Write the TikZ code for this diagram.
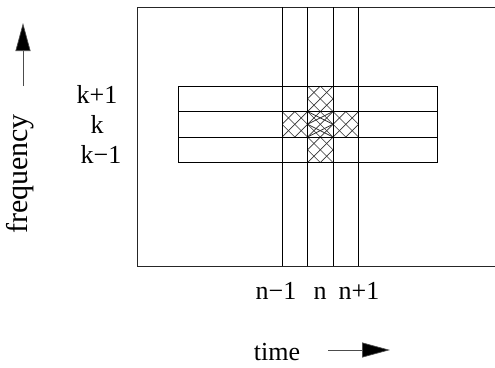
\documentclass[tikz,border=0pt]{standalone}
\usepackage{fontspec}
\setmainfont{Liberation Serif}
\usetikzlibrary{arrows.meta}
\begin{document}
\begin{tikzpicture}[x=1pt,y=-1pt,
  frame/.style={line width=0.9pt,black!85},
  grid/.style={line width=0.9pt,black},
  hatch/.style={line width=0.7pt,black!80},
  lbl/.style={font=\fontsize{26}{26}\selectfont,inner sep=0pt,anchor=base},
  arr/.style={line width=0.7pt,black!70,-{Triangle[length=28pt,width=15pt,fill=black]}}]
\useasboundingbox (0,0) rectangle (495,367);
% outer frame
\draw[frame] (495,7) -- (137,7) -- (137,266) -- (495,266);
% hatched cells
\newcommand{\hatchcell}[2]{%
  \begin{scope}
    \clip (#1,#2) rectangle ++(25.5,25.5);
    \foreach \t in {-51,-38.25,...,51}{
      \draw[hatch] (#1+\t,#2) -- ++(25.5,25.5);
      \draw[hatch] (#1+\t,#2+25.5) -- ++(25.5,-25.5);
    }
  \end{scope}}
\hatchcell{307.5}{86}
\hatchcell{282}{111.5}
\hatchcell{333}{111.5}
\hatchcell{307.5}{137}
\hatchcell{307.5}{111.5}
\begin{scope}
  \clip (307.5,111.5) rectangle ++(25.5,25.5);
  \foreach \t in {-25.5,-12.75,...,38.25}{
    \draw[hatch] (307.5,111.5+\t) -- ++(25.5,-12.75);
    \draw[hatch] (307.5,111.5+\t-12.75) -- ++(25.5,12.75);
  }
\end{scope}
% vertical strips
\foreach \x in {282,307.5,333,358.5}{
  \draw[grid] (\x,7) -- (\x,266);
}
% horizontal strips
\draw[grid] (178,86) rectangle (437,162.5);
\draw[grid] (178,111.5) -- (437,111.5);
\draw[grid] (178,137) -- (437,137);
% labels
\node[lbl] (kp) at (97,103) {k+1};
\node[lbl] (k) at (97,133) {k};
\node[lbl] (km) at (101,163) {k−1};
\node[lbl] (nm) at (276,299) {n−1};
\node[lbl] (n) at (320,299) {n};
\node[lbl] (np) at (359,299) {n+1};
\node[lbl] (time) at (277,360) {time};
\node[font=\fontsize{30}{30}\selectfont,inner sep=0pt,rotate=90] (freq) at (20,174) {frequency};
% arrows
\coordinate (fa) at (23,86);
\coordinate (fb) at (23,23);
\draw[arr] (fa) -- (fb);
\coordinate (ta) at (328,350);
\coordinate (tb) at (390,350);
\draw[arr] (ta) -- (tb);
\end{tikzpicture}
\end{document}
